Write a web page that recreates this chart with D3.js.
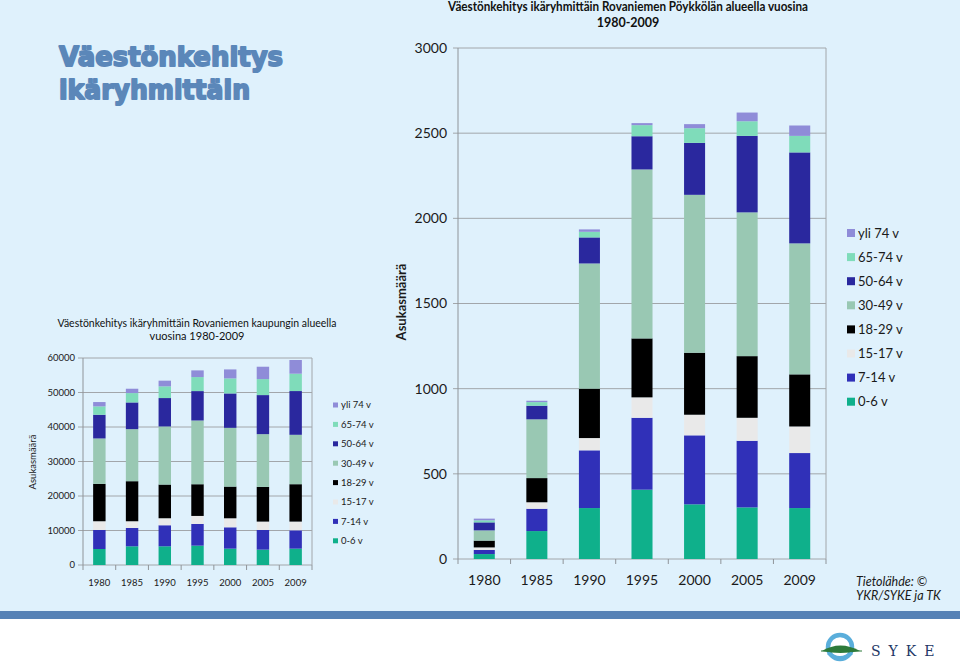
<!DOCTYPE html>
<html>
<head>
<meta charset="utf-8">
<script src="https://cdn.jsdelivr.net/npm/d3@7"></script>
<style>
  body { margin: 0; background: #fff; }
  svg { display: block; font-family: Lato, "Liberation Sans", sans-serif; }
</style>
</head>
<body>
<svg width="960" height="672"></svg>
<script>
// Categories
const years = ["1980", "1985", "1990", "1995", "2000", "2005", "2009"];
const ageGroups = ["0-6 v", "7-14 v", "15-17 v", "18-29 v", "30-49 v", "50-64 v", "65-74 v", "yli 74 v"];
const groupColors = ["#0fb08b", "#3030b8", "#e9e9e9", "#000000", "#99c8b3", "#2a289e", "#7fdcba", "#8f8cd8"];

// Pöykkölä (big chart), one array per age group
const pky0_6 = [29, 164, 299, 407, 321, 303, 299];
const pky7_14 = [24, 131, 339, 422, 405, 391, 323];
const pky15_17 = [15, 38, 72, 120, 121, 135, 156];
const pky18_29 = [40, 142, 290, 346, 364, 362, 306];
const pky30_49 = [60, 345, 735, 992, 927, 844, 769];
const pky50_64 = [47, 80, 153, 195, 305, 449, 534];
const pky65_74 = [12, 21, 33, 65, 86, 86, 97];
const pkyOver74 = [10, 8, 14, 12, 24, 51, 61];

// Rovaniemi city (small chart)
const rov0_6 = [4640, 5420, 5420, 5610, 4740, 4450, 4740];
const rov7_14 = [5520, 5320, 6100, 6290, 6190, 5710, 5320];
const rov15_17 = [2520, 1940, 2030, 2320, 2610, 2420, 2520];
const rov18_29 = [10840, 11610, 9770, 9190, 9190, 10060, 10840];
const rov30_49 = [13160, 15090, 16840, 18480, 17030, 15290, 14320];
const rov50_64 = [6870, 7740, 8230, 8520, 9970, 11320, 12680];
const rov65_74 = [2420, 2710, 3390, 4060, 4350, 4640, 5030];
const rovOver74 = [1260, 1260, 1650, 1940, 2610, 3580, 3970];

// Tick labels
const bigTicks = [0, 500, 1000, 1500, 2000, 2500, 3000];
const smallTicks = [0, 10000, 20000, 30000, 40000, 50000, 60000];

const poykkola = [pky0_6, pky7_14, pky15_17, pky18_29, pky30_49, pky50_64, pky65_74, pkyOver74];
const rovaniemi = [rov0_6, rov7_14, rov15_17, rov18_29, rov30_49, rov50_64, rov65_74, rovOver74];

const svg = d3.select("svg");

// Slide background
svg.append("rect").attr("width", 960).attr("height", 611).attr("fill", "#dff1fc");
svg.append("rect").attr("y", 611).attr("width", 960).attr("height", 8).attr("fill", "#5682b6");

// Big slide title
const titleG = svg.append("g")
  .attr("fill", "#5b87b9")
  .attr("stroke", "#5b87b9")
  .attr("stroke-width", 1.8)
  .attr("stroke-linejoin", "round")
  .style("font-family", "'DejaVu Sans', sans-serif")
  .style("font-weight", 900)
  .style("font-size", "26px");
titleG.append("text").attr("x", 59).attr("y", 66)
  .attr("textLength", 224).attr("lengthAdjust", "spacingAndGlyphs")
  .text("Väestönkehitys");
titleG.append("text").attr("x", 59).attr("y", 99)
  .attr("textLength", 191).attr("lengthAdjust", "spacingAndGlyphs")
  .text("ikäryhmittäin");

function drawChart(cfg) {
  const g = svg.append("g");
  const rows = years.map((yr, i) => {
    const row = { year: yr };
    ageGroups.forEach((k, j) => { row[k] = cfg.series[j][i]; });
    return row;
  });
  const stacked = d3.stack().keys(ageGroups)(rows);

  const x = d3.scaleBand()
    .domain(years)
    .range([cfg.left, cfg.right])
    .paddingInner(cfg.pad)
    .paddingOuter(cfg.pad / 2);
  const y = d3.scaleLinear()
    .domain([0, d3.max(cfg.ticks)])
    .range([cfg.bottom, cfg.top]);

  // Gridlines
  g.selectAll(".grid")
    .data(cfg.ticks)
    .enter()
    .append("line")
    .attr("x1", cfg.left - 5)
    .attr("x2", cfg.right)
    .attr("y1", d => y(d))
    .attr("y2", d => y(d))
    .attr("stroke", "#a2a6aa")
    .attr("stroke-width", 1);

  // Plot border sides
  g.append("line").attr("x1", cfg.left).attr("x2", cfg.left)
    .attr("y1", cfg.top).attr("y2", cfg.bottom).attr("stroke", "#8f9499");
  g.append("line").attr("x1", cfg.right).attr("x2", cfg.right)
    .attr("y1", cfg.top).attr("y2", cfg.bottom).attr("stroke", "#a2a6aa");

  // Category tick marks
  const step = x.step();
  g.selectAll(".xtick")
    .data(d3.range(years.length + 1))
    .enter()
    .append("line")
    .attr("x1", i => cfg.left + i * step)
    .attr("x2", i => cfg.left + i * step)
    .attr("y1", cfg.bottom)
    .attr("y2", cfg.bottom + 5)
    .attr("stroke", "#8f9499");

  // Bars
  g.selectAll(".layer")
    .data(stacked)
    .enter()
    .append("g")
    .attr("fill", (d, i) => groupColors[i])
    .selectAll("rect")
    .data(d => d)
    .enter()
    .append("rect")
    .attr("x", d => x(d.data.year))
    .attr("width", x.bandwidth())
    .attr("y", d => y(d[1]))
    .attr("height", d => y(d[0]) - y(d[1]));

  // Y tick labels
  g.selectAll(".ylab")
    .data(cfg.ticks)
    .enter()
    .append("text")
    .attr("x", cfg.left - cfg.labelGap)
    .attr("y", d => y(d))
    .attr("dy", "0.35em")
    .attr("text-anchor", "end")
    .attr("fill", "#1a1a1a")
    .style("font-size", cfg.font + "px")
    .text(d => d);

  // X tick labels
  g.selectAll(".xlab")
    .data(years)
    .enter()
    .append("text")
    .attr("x", d => x(d) + x.bandwidth() / 2)
    .attr("y", cfg.bottom + cfg.xLabelOffset)
    .attr("dy", "0.35em")
    .attr("text-anchor", "middle")
    .attr("fill", "#1a1a1a")
    .style("font-size", cfg.font + "px")
    .text(d => d);

  // Axis title
  g.append("text")
    .attr("transform", `translate(${cfg.axisTitleX},${cfg.axisTitleY}) rotate(-90)`)
    .attr("text-anchor", "middle")
    .attr("dy", "0.35em")
    .attr("fill", "#1a1a1a")
    .style("font-size", cfg.axisTitleFont + "px")
    .style("font-weight", cfg.axisTitleWeight)
    .text("Asukasmäärä");

  // Chart title
  cfg.title.forEach((t, i) => {
    const tt = g.append("text")
      .attr("x", cfg.titleX)
      .attr("y", cfg.titleY + i * cfg.titleLine)
      .attr("dy", "0.35em")
      .attr("text-anchor", "middle")
      .attr("fill", "#111")
      .style("font-size", cfg.titleFont + "px")
      .style("font-weight", cfg.titleWeight)
      .text(t);
    if (i === 0) tt.attr("textLength", cfg.titleWidth).attr("lengthAdjust", "spacingAndGlyphs");
  });

  // Legend (top item is the last stacked group)
  const legendItems = ageGroups.map((k, i) => ({ k, c: groupColors[i] })).reverse();
  const lg = g.selectAll(".leg")
    .data(legendItems)
    .enter()
    .append("g")
    .attr("transform", (d, i) => `translate(${cfg.legX},${cfg.legY + i * cfg.legStep})`);
  lg.append("rect")
    .attr("x", 0)
    .attr("y", -cfg.legBox / 2)
    .attr("width", cfg.legBox)
    .attr("height", cfg.legBox)
    .attr("fill", d => d.c);
  lg.append("text")
    .attr("x", cfg.legBox + 3)
    .attr("dy", "0.35em")
    .attr("fill", "#1a1a1a")
    .style("font-size", cfg.legFont + "px")
    .text(d => d.k);
}

// Small chart: Rovaniemi city
drawChart({
  series: rovaniemi, ticks: smallTicks,
  left: 83, right: 312, top: 358, bottom: 565, pad: 0.62,
  font: 9.5, labelGap: 8, xLabelOffset: 18,
  axisTitleX: 33, axisTitleY: 462, axisTitleFont: 9.5, axisTitleWeight: 400,
  title: ["Väestönkehitys ikäryhmittäin Rovaniemen kaupungin alueella", "vuosina 1980-2009"],
  titleX: 197, titleY: 323, titleLine: 13, titleFont: 11, titleWeight: 400, titleWidth: 279,
  legX: 333, legY: 405, legStep: 19.4, legBox: 5, legFont: 9.5
});

// Big chart: Pöykkölä
drawChart({
  series: poykkola, ticks: bigTicks,
  left: 458, right: 826, top: 48, bottom: 559, pad: 0.6,
  font: 14, labelGap: 11, xLabelOffset: 21,
  axisTitleX: 401, axisTitleY: 302, axisTitleFont: 13, axisTitleWeight: 700,
  title: ["Väestönkehitys ikäryhmittäin Rovaniemen Pöykkölän alueella vuosina", "1980-2009"],
  titleX: 628, titleY: 7, titleLine: 16, titleFont: 12.5, titleWeight: 700, titleWidth: 360,
  legX: 847, legY: 233, legStep: 24.1, legBox: 8, legFont: 13
});

// Source note
const src = svg.append("g")
  .attr("fill", "#1a1a1a")
  .style("font-size", "12.5px")
  .style("font-style", "italic");
src.append("text").attr("x", 856).attr("y", 582).attr("dy", "0.35em").text("Tietolähde: ©");
src.append("text").attr("x", 856).attr("y", 596).attr("dy", "0.35em").text("YKR/SYKE ja TK");

// SYKE logo
const logo = svg.append("g");
logo.append("circle").attr("cx", 840).attr("cy", 647).attr("r", 12)
  .attr("fill", "none").attr("stroke", "#5aaedb").attr("stroke-width", 4.5);
logo.append("path")
  .attr("d", "M822,651 Q840,640 860,651 Q840,655 822,651 Z")
  .attr("fill", "#2d7a3a");
logo.append("line").attr("x1", 821).attr("x2", 862).attr("y1", 651).attr("y2", 651)
  .attr("stroke", "#2d7a3a").attr("stroke-width", 1.2);
logo.append("path")
  .attr("d", "M828,653 Q840,662 852,653")
  .attr("fill", "none").attr("stroke", "#5aaedb").attr("stroke-width", 3);
logo.append("text")
  .attr("x", 871).attr("y", 651).attr("dy", "0.35em")
  .attr("fill", "#1d3766")
  .style("font-family", "'DejaVu Serif', 'Liberation Serif', serif")
  .style("font-size", "14px")
  .style("letter-spacing", "8px")
  .text("SYKE");
</script>
</body>
</html>
